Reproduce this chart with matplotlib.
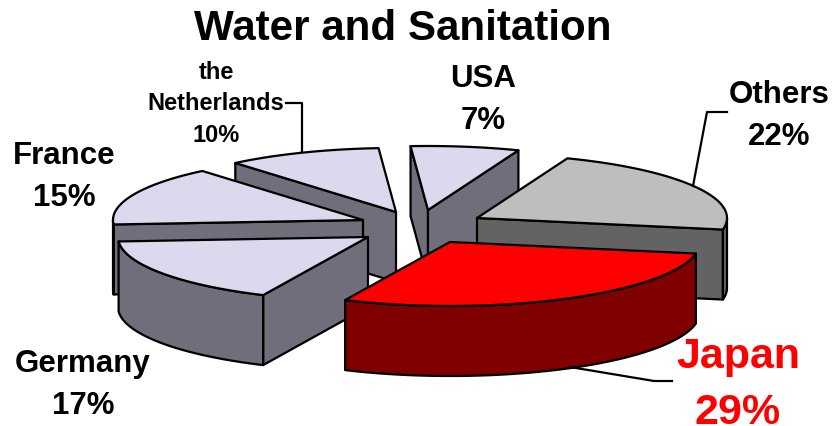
import numpy as np
import matplotlib
matplotlib.use('Agg')
import matplotlib.pyplot as plt
from matplotlib.patches import Polygon

plt.rcParams['font.family'] = ['Liberation Sans', 'DejaVu Sans']

# clockwise from the top of the pie
names = ['USA', 'Others', 'Japan', 'Germany', 'France', 'the\nNetherlands']
shares = [7, 22, 29, 17, 15, 10]

# layout, in image pixels
apex = [(428, 211), (477, 219), (450, 243), (368, 238), (363, 221), (396, 213)]
label_pos = [(483, 100), (779, 116), (738, 385), (83, 385), (64, 177), (216, 104)]
label_size = [22.5, 22.5, 31, 22.5, 22.5, 17]
label_space = [1.48, 1.48, 1.5, 1.48, 1.48, 1.46]
label_color = ['black', 'black', '#FF0000', 'black', 'black', 'black']
top_color = ['#DAD9EE', '#BEBEBE', '#FF0000', '#DAD9EE', '#DAD9EE', '#DAD9EE']
side_color = ['#6F6E7A', '#636363', '#800000', '#6F6E7A', '#6F6E7A', '#6F6E7A']
draw_order = [0, 5, 1, 4, 3, 2]

RX, RY = 250, 64
DEPTH = 70
START = -4
LW = 1.6


def rim(center, a0, a1):
    t = np.radians(np.linspace(a0, a1, max(int(a1 - a0), 2) + 1))
    return np.column_stack((center[0] + RX * np.sin(t), center[1] - RY * np.cos(t)))


def wall(ax, pts, color):
    pts = np.asarray(pts)
    low = pts[::-1] + (0, DEPTH)
    ax.add_patch(Polygon(np.vstack((pts, low)), closed=True, facecolor=color,
                         edgecolor='black', linewidth=LW, joinstyle='round'))


fig = plt.figure(figsize=(8.33, 4.27), dpi=100)
ax = fig.add_axes([0, 0, 1, 1])
ax.set_xlim(0, 833)
ax.set_ylim(427, 0)
ax.axis('off')

edges = START + np.cumsum([0] + shares) * 3.6
for i in draw_order:
    a0, a1 = edges[i], edges[i + 1]
    c = np.array(apex[i], dtype=float)
    arc = rim(c, a0, a1)
    # only the faces turned to the viewer are drawn
    if arc[0, 0] < c[0]:
        wall(ax, [c, arc[0]], side_color[i])
    if arc[-1, 0] > c[0]:
        wall(ax, [c, arc[-1]], side_color[i])
    lo, hi = max(a0, 90), min(a1, 270)
    if hi > lo:
        wall(ax, rim(c, lo, hi), side_color[i])
    ax.add_patch(Polygon(np.vstack((c, arc)), closed=True, facecolor=top_color[i],
                         edgecolor='black', linewidth=LW, joinstyle='round'))

# leader lines
ax.plot([693, 707, 727], [187, 113, 113], color='black', lw=LW, zorder=1)
ax.plot([302, 302, 286], [153, 104, 104], color='black', lw=LW, zorder=1)
ax.plot([570, 654, 672], [368, 382, 382], color='black', lw=LW, zorder=1)

for i, name in enumerate(names):
    ax.text(label_pos[i][0], label_pos[i][1], '%s\n%d%%' % (name, shares[i]),
            ha='center', va='center', fontsize=label_size[i], fontweight='bold',
            color=label_color[i], linespacing=label_space[i])

ax.text(403, 29, 'Water and Sanitation', ha='center', va='center',
        fontsize=30.3, fontweight='bold')

fig.savefig('out.png', dpi=100)
